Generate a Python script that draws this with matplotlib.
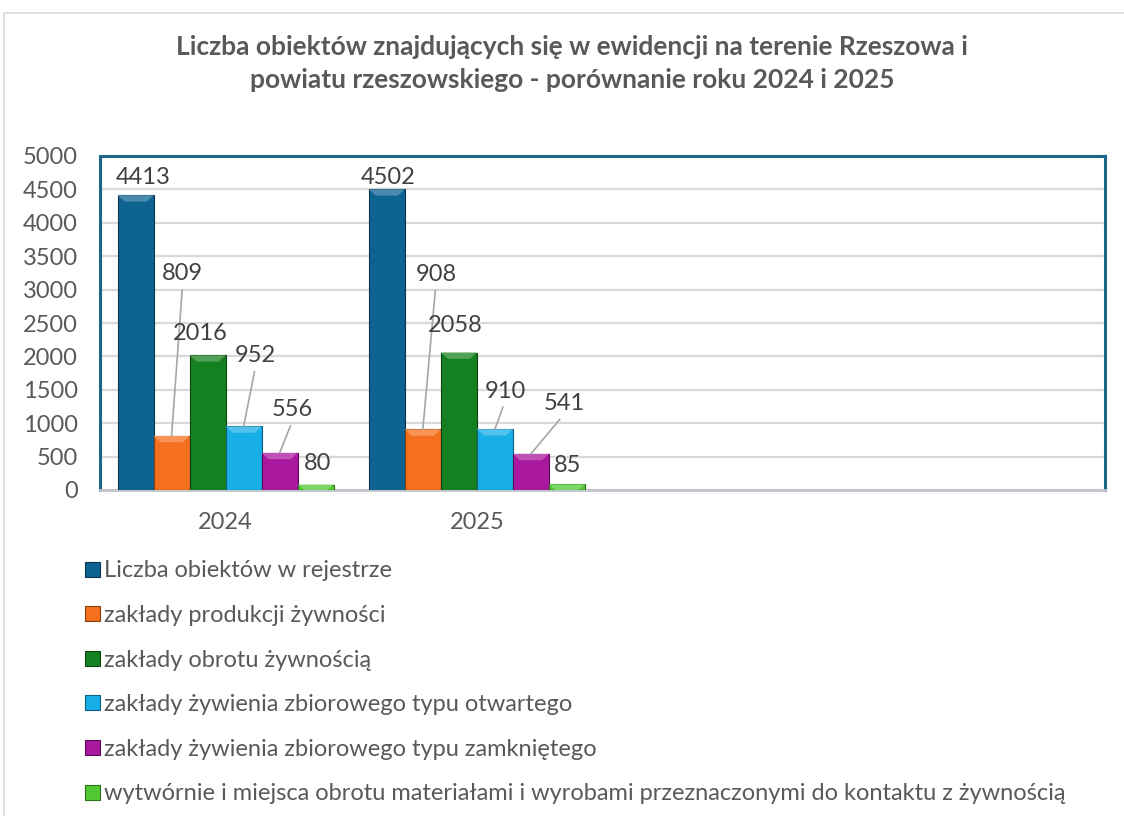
import matplotlib.pyplot as plt
from matplotlib.patches import Polygon, Rectangle, Patch
import matplotlib.colors as mcolors
import numpy as np

plt.rcParams['font.family'] = ['Lato', 'DejaVu Sans']

# Dane
categories = ['2024', '2025', '', '']
series_names = [
    'Liczba obiektów w rejestrze',
    'zakłady produkcji żywności',
    'zakłady obrotu żywnością',
    'zakłady żywienia zbiorowego typu otwartego',
    'zakłady żywienia zbiorowego typu zamkniętego',
    'wytwórnie i miejsca obrotu materiałami i wyrobami przeznaczonymi do kontaktu z żywnością',
]
values_2024 = [4413, 809, 2016, 952, 556, 80]
values_2025 = [4502, 908, 2058, 910, 541, 85]
colors = ['#0E6390', '#F4701E', '#15801F', '#18AEE6', '#A9189F', '#52C934']

# przesunięcia etykiet (piksele) i czy rysować linię odniesienia
label_offsets_2024 = [(8, 18), (11, 162), (-7, 22), (12, 71), (13, 43), (2, 21)]
label_offsets_2025 = [(1, 12), (13, 155), (-4, 27), (10, 38), (33, 50), (1, 19)]
leader_2024 = [False, True, False, True, True, False]
leader_2025 = [False, True, False, True, True, False]

TEXT = '#595959'
W, H = 1124, 816
fig = plt.figure(figsize=(W / 100, H / 100), dpi=100)

# ramka wykresu
fig.patches.append(Rectangle((4 / W, -0.05), 1.1, 1 - 13 / H + 0.05, transform=fig.transFigure,
                             fill=False, edgecolor='#D9D9D9', linewidth=1.2))

ax = fig.add_axes([100 / W, (H - 490) / H, 1005 / W, 334 / H])

n = len(series_names)
bw = 0.1434
x = np.arange(len(categories))
data = [values_2024, values_2025]
offsets = [label_offsets_2024, label_offsets_2025]
leaders = [leader_2024, leader_2025]

for ci, vals in enumerate(data):
    for si, v in enumerate(vals):
        xc = x[ci] + (si - (n - 1) / 2) * bw
        base = mcolors.to_rgb(colors[si])
        dark = tuple(c * 0.55 for c in base)
        light = tuple(c + (1 - c) * 0.25 for c in base)
        ax.bar(xc, v, bw, color=colors[si], edgecolor=dark, linewidth=0.8, zorder=3)
        # fazka u góry słupka
        h = min(95, v)
        b = 0.028
        x0, x1 = xc - bw / 2, xc + bw / 2
        ax.add_patch(Polygon([(x0, v), (x1, v), (x1 - b, v - h), (x0 + b, v - h)],
                             closed=True, facecolor=light, edgecolor='none', zorder=4))
        dx, dy = offsets[ci][si]
        arrow = dict(arrowstyle='-', color='#A6A6A6', lw=1.2, relpos=(0.5, 0),
                     shrinkA=2, shrinkB=0) if leaders[ci][si] else None
        ax.annotate(str(v), xy=(xc, v), xytext=(dx, dy), textcoords='offset pixels',
                    ha='center', va='center', fontsize=17, color='#404040',
                    arrowprops=arrow, zorder=5)

ax.set_xlim(-0.5, len(categories) - 0.5)
ax.set_ylim(0, 5000)
ax.set_yticks(np.arange(0, 5001, 500))
ax.set_xticks(x)
ax.set_xticklabels(categories)
ax.tick_params(axis='both', length=0, labelsize=17, labelcolor=TEXT)
ax.tick_params(axis='y', pad=16)
ax.tick_params(axis='x', pad=16)
ax.grid(axis='y', color='#D9D9D9', linewidth=1.6, zorder=0)
ax.set_axisbelow(True)
for s in ['top', 'left', 'right']:
    ax.spines[s].set_color('#1D6489')
    ax.spines[s].set_linewidth(2.2)
ax.spines['bottom'].set_color('#BFC5CC')
ax.spines['bottom'].set_linewidth(2)

fig.text(572 / W, 1 - 35 / H,
         'Liczba obiektów znajdujących się w ewidencji na terenie Rzeszowa i\n'
         'powiatu rzeszowskiego - porównanie roku 2024 i 2025',
         ha='center', va='top', fontsize=19, fontweight='bold', color=TEXT, linespacing=1.45)

handles = [Patch(facecolor=c, edgecolor=tuple(v * 0.55 for v in mcolors.to_rgb(c)), linewidth=0.8)
           for c in colors]
fig.legend(handles, series_names, loc='upper left', bbox_to_anchor=(76 / W, 1 - 551 / H),
           frameon=False, fontsize=17, labelcolor=TEXT, handlelength=0.6, handleheight=0.6,
           handletextpad=0.2, labelspacing=1.0, borderaxespad=0)

fig.savefig('out.png', dpi=100)
